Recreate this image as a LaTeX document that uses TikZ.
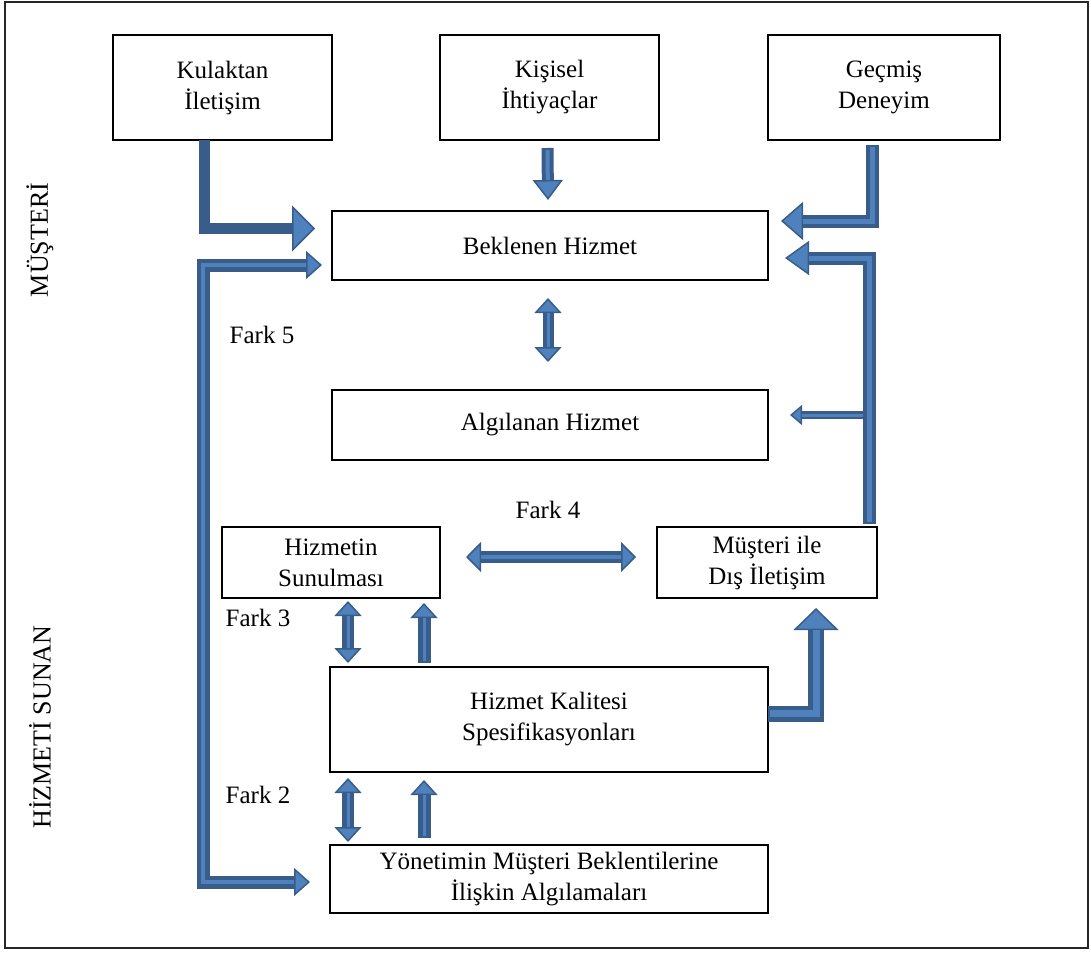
\documentclass[tikz,border=0pt]{standalone}
\usepackage{fontspec}
\setmainfont{Liberation Serif}
\usetikzlibrary{calc,arrows.meta}
\definecolor{arrowdark}{HTML}{385D8A}
\definecolor{arrowlight}{HTML}{4F81BD}
\begin{document}
\begin{tikzpicture}[x=1pt,y=-1pt,
  every node/.style={font=\fontsize{25}{31}\selectfont, inner sep=0pt, outer sep=0pt},
  box/.style={draw=black, line width=2.4pt, align=center},
  lbl/.style={anchor=center},
  side/.style={anchor=center, rotate=90, font=\fontsize{26}{31}\selectfont},
  shaft/.style={draw=arrowdark, line width=#1},
  stripe/.style={draw=arrowlight, line width=#1},
]
\useasboundingbox (0,0) rectangle (1091,952);
\draw[line width=1.6pt, black!85] (5,2) rectangle (1088,948);

% boxes
\node[box, minimum width=219pt, minimum height=105pt] (kul) at (222.5,87.5) {Kulaktan\\İletişim};
\node[box, minimum width=219pt, minimum height=105pt] (kis) at (549.5,87.5) {Kişisel\\İhtiyaçlar};
\node[box, minimum width=232pt, minimum height=105pt] (gec) at (884,87.5) {Geçmiş\\Deneyim};
\node[box, minimum width=436pt, minimum height=69pt] (bek) at (550,245.5) {Beklenen Hizmet};
\node[box, minimum width=436pt, minimum height=70pt] (alg) at (550,425) {Algılanan Hizmet};
\node[box, minimum width=218pt, minimum height=71pt] (sun) at (331,562.5) {Hizmetin\\Sunulması};
\node[box, minimum width=220pt, minimum height=71pt] (dis) at (767,562.5) {Müşteri ile\\Dış İletişim};
\node[box, minimum width=438pt, minimum height=105pt] (spec) at (549,719.5) {Hizmet Kalitesi\\Spesifikasyonları};
\node[box, minimum width=438pt, minimum height=68pt] (yon) at (549,879) {Yönetimin Müşteri Beklentilerine\\İlişkin Algılamaları};

% side and gap labels
\node[side] (musteri) at (40,240) {MÜŞTERİ};
\node[side] (sunan) at (40,727) {HİZMETİ SUNAN};
\node[lbl] (f5) at (262,335) {Fark 5};
\node[lbl] (f4) at (548,510) {Fark 4};
\node[lbl] (f3) at (258,618) {Fark 3};
\node[lbl] (f2) at (258,795) {Fark 2};

% word of mouth -> expected service
\draw[shaft=11pt, -{Triangle[length=23pt,width=46pt,line width=1.5pt,fill=arrowlight]}]
  ($(kul.south)+(-18,0)$) |- ($(bek.west)+(-17,-17)$);

% personal needs -> expected service
\draw[shaft=12pt, -{Triangle[length=20pt,width=30pt,line width=1.5pt,fill=arrowlight]}]
  ($(kis.south)+(-2,8)$) -- ($(bek.north)+(-2,-11)$);
\draw[stripe=4pt, shorten >=20pt, shorten <=2pt]
  ($(kis.south)+(-2,8)$) -- ($(bek.north)+(-2,-11)$);

% past experience -> expected service
\draw[shaft=13pt, -{Triangle[length=22pt,width=38pt,line width=1.5pt,fill=arrowlight]}]
  ($(gec.south)+(-12,5)$) |- ($(bek.east)+(13,-24.5)$);
\draw[stripe=5pt, shorten >=22pt, shorten <=2pt]
  ($(gec.south)+(-12,5)$) |- ($(bek.east)+(13,-24.5)$);

% external communication -> perceived service (branch)
\draw[shaft=8pt, -{Triangle[length=12pt,width=20pt,line width=1.5pt,fill=arrowlight]}]
  ($(dis.north east)+(-8,-112)$) -- ($(alg.east)+(22,-10)$);
\draw[stripe=3pt, shorten >=12pt, shorten <=2pt]
  ($(dis.north east)+(-8,-112)$) -- ($(alg.east)+(22,-10)$);

% external communication -> expected service
\draw[shaft=13pt, -{Triangle[length=24pt,width=34pt,line width=1.5pt,fill=arrowlight]}]
  ($(dis.north east)+(-8,-3)$) |- ($(bek.east)+(17,12.5)$);
\draw[stripe=5pt, shorten >=24pt, shorten <=2pt]
  ($(dis.north east)+(-8,-3)$) |- ($(bek.east)+(17,12.5)$);

% expected <-> perceived
\draw[shaft=11pt, {Triangle[length=15pt,width=27pt,line width=1.5pt,fill=arrowlight]}-{Triangle[length=15pt,width=27pt,line width=1.5pt,fill=arrowlight]}]
  ($(bek.south)+(-2,18)$) -- ($(alg.north)+(-2,-28)$);
\draw[stripe=3pt, shorten >=15pt, shorten <=15pt]
  ($(bek.south)+(-2,18)$) -- ($(alg.north)+(-2,-28)$);

% gap 4: delivery <-> external communication
\draw[shaft=12pt, {Triangle[length=15pt,width=30pt,line width=1.5pt,fill=arrowlight]}-{Triangle[length=15pt,width=30pt,line width=1.5pt,fill=arrowlight]}]
  ($(sun.east)+(26,-5.5)$) -- ($(dis.west)+(-21,-5.5)$);
\draw[stripe=4pt, shorten >=15pt, shorten <=15pt]
  ($(sun.east)+(26,-5.5)$) -- ($(dis.west)+(-21,-5.5)$);

% gap 3
\draw[shaft=12pt, {Triangle[length=15pt,width=27pt,line width=1.5pt,fill=arrowlight]}-{Triangle[length=15pt,width=27pt,line width=1.5pt,fill=arrowlight]}]
  ($(sun.south east)+(-92,3)$) -- ($(spec.north west)+(18,-4)$);
\draw[stripe=3pt, shorten >=15pt, shorten <=15pt]
  ($(sun.south east)+(-92,3)$) -- ($(spec.north west)+(18,-4)$);
\draw[shaft=13pt, -{Triangle[length=15pt,width=27pt,line width=1.5pt,fill=arrowlight]}]
  ($(spec.north west)+(94,-4)$) -- ($(sun.south east)+(-16,5)$);
\draw[stripe=3pt, shorten >=15pt, shorten <=2pt]
  ($(spec.north west)+(94,-4)$) -- ($(sun.south east)+(-16,5)$);

% gap 2
\draw[shaft=12pt, {Triangle[length=15pt,width=27pt,line width=1.5pt,fill=arrowlight]}-{Triangle[length=15pt,width=27pt,line width=1.5pt,fill=arrowlight]}]
  ($(spec.south west)+(18,6)$) -- ($(yon.north west)+(18,-3)$);
\draw[stripe=3pt, shorten >=15pt, shorten <=15pt]
  ($(spec.south west)+(18,6)$) -- ($(yon.north west)+(18,-3)$);
\draw[shaft=13pt, -{Triangle[length=15pt,width=27pt,line width=1.5pt,fill=arrowlight]}]
  ($(yon.north west)+(94,-7)$) -- ($(spec.south west)+(94,8)$);
\draw[stripe=3pt, shorten >=15pt, shorten <=2pt]
  ($(yon.north west)+(94,-7)$) -- ($(spec.south west)+(94,8)$);

% specifications -> external communication
\draw[shaft=16pt, -{Triangle[length=22pt,width=45pt,line width=1.5pt,fill=arrowlight]}]
  ($(spec.east)+(0,-6)$) -| ($(dis.south)+(49,10)$);
\draw[stripe=7pt, shorten >=22pt, shorten <=2pt]
  ($(spec.east)+(0,-6)$) -| ($(dis.south)+(49,10)$);

% gap 5 loop: management perceptions <-> expected service
\draw[shaft=13pt, {Triangle[length=16pt,width=28pt,line width=1.5pt,fill=arrowlight]}-{Triangle[length=16pt,width=28pt,line width=1.5pt,fill=arrowlight]}]
  ($(bek.west)+(-10,19.5)$) -| ($(yon.west)+(-127,3)$) -- ($(yon.west)+(-20,3)$);
\draw[stripe=4pt, shorten >=16pt, shorten <=16pt]
  ($(bek.west)+(-10,19.5)$) -| ($(yon.west)+(-127,3)$) -- ($(yon.west)+(-20,3)$);
\end{tikzpicture}
\end{document}
